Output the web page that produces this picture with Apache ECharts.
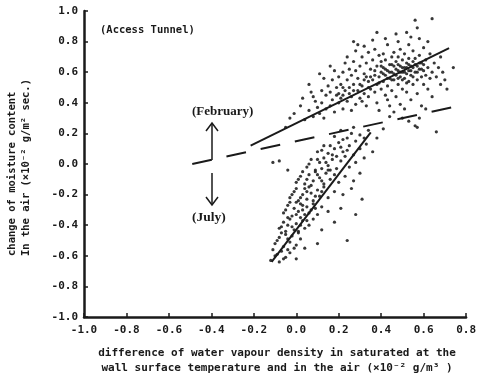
<!DOCTYPE html>
<html>
<head>
<meta charset="utf-8">
<script src="https://cdn.jsdelivr.net/npm/echarts@6/dist/echarts.min.js"></script>
<style>
  html, body { margin: 0; padding: 0; background: #fff; }
  #chart { width: 479px; height: 389px; }
</style>
</head>
<body>
<div id="chart"></div>
<script>
'use strict';

// axis ticks
const X_TICKS = [-1.0, -0.8, -0.6, -0.4, -0.2, 0.0, 0.2, 0.4, 0.6, 0.8];
const Y_TICKS = [-1.0, -0.8, -0.6, -0.4, -0.2, 0.0, 0.2, 0.4, 0.6, 0.8, 1.0];

// February cloud
const febPoints = [
  [-0.03,0.30],[-0.01,0.33],[0.02,0.38],[0.03,0.43],[0.04,0.29],[-0.05,0.24],
  [0.06,0.35],[0.07,0.47],[0.08,0.31],[0.09,0.41],[0.06,0.52],[0.10,0.37],[0.08,0.44],
  [0.11,0.33],[0.12,0.48],[0.12,0.40],[0.13,0.56],[0.14,0.36],[0.14,0.45],[0.15,0.51],[0.11,0.59],[0.13,0.30],
  [0.16,0.38],[0.16,0.47],[0.17,0.55],[0.17,0.42],[0.18,0.61],[0.18,0.34],[0.19,0.50],[0.19,0.45],[0.20,0.57],[0.20,0.40],[0.16,0.64],
  [0.21,0.43],[0.21,0.52],[0.22,0.60],[0.22,0.36],[0.23,0.48],[0.23,0.66],[0.24,0.55],[0.24,0.41],[0.25,0.50],[0.25,0.62],[0.22,0.45],[0.24,0.70],
  [0.26,0.44],[0.26,0.58],[0.27,0.52],[0.27,0.67],[0.28,0.39],[0.28,0.61],[0.28,0.74],[0.29,0.48],[0.29,0.56],[0.30,0.64],[0.30,0.43],[0.27,0.80],[0.29,0.78],[0.26,0.35],
  [0.31,0.51],[0.31,0.70],[0.32,0.46],[0.32,0.59],[0.33,0.66],[0.33,0.38],[0.34,0.54],[0.34,0.73],[0.35,0.49],[0.35,0.62],[0.31,0.41],[0.33,0.57],[0.34,0.44],[0.32,0.77],
  [0.36,0.55],[0.36,0.68],[0.37,0.47],[0.37,0.61],[0.37,0.75],[0.38,0.52],[0.38,0.40],[0.38,0.64],[0.39,0.57],[0.39,0.71],[0.40,0.49],[0.40,0.60],[0.36,0.81],[0.39,0.35],[0.40,0.67],[0.38,0.86],
  [0.41,0.54],[0.41,0.63],[0.41,0.72],[0.42,0.45],[0.42,0.58],[0.42,0.68],[0.43,0.51],[0.43,0.61],[0.43,0.78],[0.44,0.56],[0.44,0.65],[0.44,0.38],[0.45,0.60],[0.45,0.70],[0.45,0.48],[0.42,0.82],[0.44,0.31],[0.43,0.42],
  [0.46,0.55],[0.46,0.64],[0.46,0.73],[0.47,0.58],[0.47,0.67],[0.47,0.44],[0.48,0.61],[0.48,0.52],[0.48,0.70],[0.48,0.80],[0.49,0.57],[0.49,0.64],[0.49,0.39],[0.50,0.60],[0.50,0.68],[0.50,0.49],[0.47,0.85],[0.49,0.75],[0.46,0.34],[0.50,0.30],
  [0.51,0.56],[0.51,0.63],[0.51,0.72],[0.52,0.59],[0.52,0.66],[0.52,0.47],[0.52,0.86],[0.53,0.61],[0.53,0.69],[0.53,0.54],[0.53,0.78],[0.54,0.64],[0.54,0.58],[0.54,0.42],[0.55,0.67],[0.55,0.52],[0.55,0.74],[0.51,0.36],[0.54,0.83],[0.53,0.28],
  [0.56,0.60],[0.56,0.69],[0.56,0.94],[0.57,0.55],[0.57,0.64],[0.57,0.89],[0.57,0.46],[0.58,0.62],[0.58,0.71],[0.58,0.82],[0.59,0.57],[0.59,0.66],[0.59,0.38],[0.60,0.61],[0.60,0.52],[0.60,0.76],[0.58,0.30],[0.56,0.25],
  [0.61,0.58],[0.61,0.68],[0.62,0.49],[0.62,0.63],[0.62,0.80],[0.63,0.56],[0.63,0.72],[0.64,0.60],[0.64,0.95],[0.64,0.44],[0.65,0.66],[0.61,0.36],
  [0.66,0.57],[0.67,0.63],[0.68,0.52],[0.69,0.60],[0.70,0.55],[0.71,0.49],[0.74,0.63],[0.68,0.70],
  [0.57,0.24],[0.66,0.21],
  [0.37,0.58],[0.39,0.53],[0.40,0.64],[0.41,0.59],[0.42,0.62],[0.43,0.56],[0.44,0.60],[0.45,0.65],[0.45,0.55],[0.46,0.59],
  [0.47,0.62],[0.48,0.56],[0.48,0.65],[0.49,0.60],[0.50,0.63],[0.50,0.55],[0.51,0.60],[0.52,0.63],[0.52,0.53],[0.53,0.65],
  [0.54,0.61],[0.55,0.63],[0.55,0.57],[0.56,0.65],[0.57,0.60],[0.58,0.66],[0.59,0.62],[0.60,0.65],[0.30,0.52],[0.32,0.55],
  [0.34,0.50],[0.35,0.57],[0.25,0.46],[0.27,0.48],[0.20,0.46],[0.22,0.50]
];

// July cloud
const julPoints = [
  [-0.12,-0.63],[-0.10,-0.60],[-0.08,-0.64],[-0.07,-0.57],[-0.11,-0.56],[-0.05,-0.61],[-0.03,-0.58],[0.00,-0.62],
  [-0.10,-0.52],[-0.08,-0.48],[-0.06,-0.54],[-0.05,-0.46],[-0.03,-0.51],[-0.02,-0.47],[0.00,-0.53],[0.02,-0.49],[-0.07,-0.45],[0.04,-0.55],[0.10,-0.52],[0.24,-0.50],[0.01,-0.45],
  [-0.08,-0.42],[-0.06,-0.38],[-0.05,-0.44],[-0.03,-0.36],[-0.02,-0.41],[0.00,-0.39],[0.01,-0.44],[0.03,-0.37],[0.04,-0.42],[0.06,-0.40],[-0.04,-0.40],[0.08,-0.36],[0.12,-0.43],[0.18,-0.38],[0.02,-0.35],
  [-0.06,-0.32],[-0.04,-0.27],[-0.02,-0.34],[-0.01,-0.29],[0.01,-0.31],[0.02,-0.26],[0.04,-0.33],[0.05,-0.28],[0.07,-0.30],[0.08,-0.26],[0.10,-0.33],[0.12,-0.28],[0.15,-0.31],[0.21,-0.29],[0.03,-0.30],[0.28,-0.33],[0.00,-0.25],
  [-0.03,-0.22],[-0.01,-0.18],[0.01,-0.24],[0.03,-0.20],[0.04,-0.16],[0.05,-0.23],[0.07,-0.19],[0.08,-0.24],[0.10,-0.17],[0.11,-0.21],[0.13,-0.15],[0.15,-0.22],[0.18,-0.18],[0.22,-0.20],[0.26,-0.16],[0.31,-0.23],[0.06,-0.15],
  [0.00,-0.12],[0.02,-0.08],[0.04,-0.13],[0.06,-0.07],[0.08,-0.11],[0.09,-0.05],[0.11,-0.09],[0.13,-0.13],[0.14,-0.06],[0.16,-0.10],[0.18,-0.07],[0.20,-0.12],[0.23,-0.08],[0.27,-0.11],[0.30,-0.06],[0.07,-0.14],
  [0.05,-0.02],[0.07,0.03],[0.09,-0.04],[0.11,0.01],[0.13,0.04],[0.15,-0.01],[0.17,0.03],[0.19,-0.03],[0.21,0.02],[0.23,0.05],[0.25,-0.02],[0.28,0.01],[0.32,0.04],[0.12,-0.03],
  [0.10,0.08],[0.13,0.12],[0.15,0.07],[0.18,0.10],[0.20,0.14],[0.22,0.08],[0.25,0.12],[0.27,0.06],[0.30,0.10],[0.33,0.13],[0.36,0.08],[0.17,0.06],
  [0.18,0.18],[0.21,0.22],[0.24,0.17],[0.27,0.24],[0.30,0.19],[0.34,0.22],[0.38,0.17],[0.41,0.23],
  [-0.11,0.01],[-0.08,0.02],[-0.04,-0.04],
  [-0.09,-0.59],[-0.06,-0.62],[-0.04,-0.56],[-0.09,-0.50],[-0.04,-0.49],[-0.01,-0.55],[-0.07,-0.41],[-0.04,-0.35],[-0.01,-0.43],[0.02,-0.40],
  [0.05,-0.37],[-0.05,-0.30],[-0.03,-0.25],[0.00,-0.33],[0.03,-0.27],[0.06,-0.32],[0.09,-0.29],[-0.02,-0.20],[0.00,-0.16],[0.02,-0.22],
  [0.05,-0.18],[0.09,-0.21],[0.12,-0.18],[0.01,-0.10],[0.03,-0.05],[0.05,-0.10],[0.10,-0.07],[0.12,-0.11],[0.15,-0.04],[0.06,0.00],
  [0.10,0.03],[0.14,0.01],[0.16,-0.04],[0.19,0.05],[0.12,0.09],[0.16,0.12],[0.21,0.11],[0.24,0.09],[0.28,0.15],[0.22,0.16],
  [0.26,0.20],[0.32,0.17]
];

// fitted lines
const febLine = [[-0.215, 0.12], [0.72, 0.757]];
const julLine = [[-0.116, -0.64], [0.351, 0.207]];
const refLine = [[-0.49, 0.0], [0.78, 0.385]];

const MONO = '"DejaVu Sans Mono", monospace';
const SERIF = '"Liberation Serif", serif';
const INK = '#1a1a1a';

const chart = echarts.init(document.getElementById('chart'));

const fmt = v => (Math.abs(v) < 1e-9 ? 0 : v).toFixed(1);

const option = {
  backgroundColor: '#fff',
  animation: false,
  grid: { left: 84, right: 10, top: 11, bottom: 72 },
  xAxis: {
    type: 'value', min: X_TICKS[0], max: X_TICKS[X_TICKS.length - 1], interval: 0.2,
    splitLine: { show: false },
    axisLine: { onZero: false, lineStyle: { color: INK, width: 2.5 } },
    axisTick: { inside: true, length: 4, lineStyle: { color: INK, width: 1.5 } },
    axisLabel: { color: INK, fontFamily: MONO, fontWeight: 'bold', fontSize: 11, margin: 8, formatter: fmt }
  },
  yAxis: {
    type: 'value', min: Y_TICKS[0], max: Y_TICKS[Y_TICKS.length - 1], interval: 0.2,
    splitLine: { show: false },
    axisLine: { show: true, onZero: false, lineStyle: { color: INK, width: 2.5 } },
    axisTick: { show: true, inside: true, length: 4, lineStyle: { color: INK, width: 1.5 } },
    axisLabel: { color: INK, fontFamily: MONO, fontWeight: 'bold', fontSize: 11, margin: 6, formatter: fmt }
  },
  series: [
    { type: 'scatter', data: febPoints, symbolSize: 3.2, itemStyle: { color: '#222', opacity: 0.9 } },
    { type: 'scatter', data: julPoints, symbolSize: 3.2, itemStyle: { color: '#222', opacity: 0.9 } },
    { type: 'line', data: febLine, symbol: 'none', lineStyle: { color: INK, width: 2 } },
    { type: 'line', data: julLine, symbol: 'none', lineStyle: { color: INK, width: 2 } },
    { type: 'line', data: refLine, symbol: 'none', lineStyle: { color: INK, width: 2, type: [20, 15] } }
  ],
  graphic: [
    { type: 'text', left: 100, top: 25, style: { text: '(Access Tunnel)', font: 'bold 10.5px ' + MONO, fill: INK } },
    { type: 'text', left: 192, top: 105, style: { text: '(February)', font: 'bold 13px ' + SERIF, fill: INK } },
    { type: 'text', left: 192, top: 211, style: { text: '(July)', font: 'bold 13.5px ' + SERIF, fill: INK } },
    // up arrow
    { type: 'polyline', shape: { points: [[212, 160], [212, 123]] }, style: { stroke: INK, lineWidth: 1.5, fill: null } },
    { type: 'polyline', shape: { points: [[206, 131], [212, 123], [218, 131]] }, style: { stroke: INK, lineWidth: 1.5, fill: null } },
    // down arrow
    { type: 'polyline', shape: { points: [[212, 173], [212, 205]] }, style: { stroke: INK, lineWidth: 1.5, fill: null } },
    { type: 'polyline', shape: { points: [[206, 197], [212, 205], [218, 197]] }, style: { stroke: INK, lineWidth: 1.5, fill: null } },
    // y title
    { type: 'text', x: 12, y: 256, rotation: Math.PI / 2,
      style: { text: 'change of moisture content', font: 'bold 10.5px ' + MONO, fill: INK, align: 'left', verticalAlign: 'middle' } },
    { type: 'text', x: 26, y: 256, rotation: Math.PI / 2,
      style: { text: 'In the air (×10⁻² g/m² sec.)', font: 'bold 10.5px ' + MONO, fill: INK, align: 'left', verticalAlign: 'middle' } },
    // x title
    { type: 'text', x: 277, y: 353,
      style: { text: 'difference of water vapour density in saturated at the', font: 'bold 11px ' + MONO, fill: INK, align: 'center', verticalAlign: 'middle' } },
    { type: 'text', x: 277, y: 368,
      style: { text: 'wall surface temperature and in the air (×10⁻² g/m³ )', font: 'bold 11px ' + MONO, fill: INK, align: 'center', verticalAlign: 'middle' } }
  ]
};

chart.setOption(option);
</script>
</body>
</html>
